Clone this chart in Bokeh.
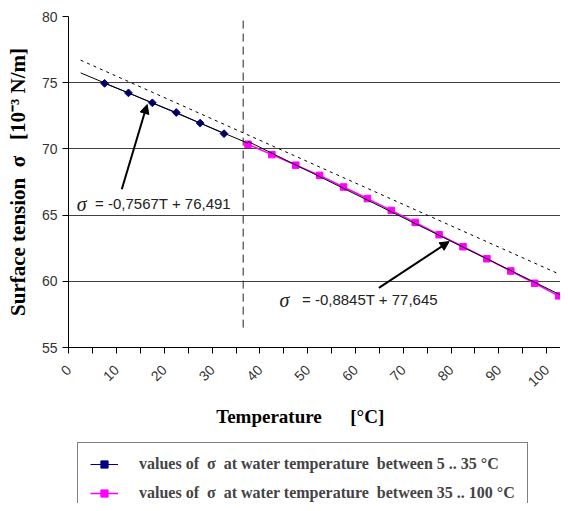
import numpy as np
from bokeh.plotting import figure
from bokeh.layouts import column
from bokeh.models import (Range1d, FixedTicker, Grid, Arrow, NormalHead, Label,
                          Legend, LegendItem)
from bokeh.embed import file_html
from bokeh.resources import INLINE

# ---- data ----
temp_low = [5, 10, 15, 20, 25, 30]
sigma_low = [74.95, 74.23, 73.48, 72.75, 71.95, 71.15]
temp_high = [35, 40, 45, 50, 55, 60, 65, 70, 75, 80, 85, 90, 95, 100]
sigma_high = [70.35, 69.57, 68.77, 68.00, 67.12, 66.25, 65.35, 64.45,
              63.52, 62.61, 61.70, 60.78, 59.85, 58.90]

# dashed reference line (end points)
ref_line_temp = [0, 100.4]
ref_line_sigma = [76.7, 60.5]

# vertical dashed boundary between the two ranges
boundary_temp = [34, 34]
boundary_sigma = [56.5, 80.5]

x_tick_labels = ["0", "10", "20", "30", "40", "50", "60", "70", "80", "90", "100"]
y_ticks = [55, 60, 65, 70, 75, 80]

eq_low = "= -0,7567T + 76,491"
eq_high = "= -0,8845T + 77,645"
legend_labels = ["values of  σ  at water temperature  between 5 .. 35 °C",
                 "values of  σ  at water temperature  between 35 .. 100 °C"]

# trend-line extents (temperature)
trend_low_span = [0, 35]
trend_high_span = [35, 100.4]

# ---- annotation placement (layout) ----
arrow_low = dict(x_start=8.6, y_start=66.95, x_end=13.9, y_end=73.35)
arrow_high = dict(x_start=62.4, y_start=59.5, x_end=77.1, y_end=63.0)
eq_low_pos = dict(sig_x=-0.8, txt_x=3.0, y=65.85)
eq_high_pos = dict(sig_x=41.6, txt_x=46.3, y=58.6)

NAVY = "#000080"
MAGENTA = "#FF00FF"
SANS = "Liberation Sans"
SERIF = "Liberation Serif"
NB = "\u00a0"

p = figure(width=560, height=430, output_backend="svg", toolbar_location=None,
           x_range=Range1d(-2.55, 100.4), y_range=Range1d(55, 80),
           min_border_left=68, min_border_right=0, min_border_top=16,
           min_border_bottom=83)
p.outline_line_color = None
p.background_fill_color = "white"
p.border_fill_color = "white"

# x axis: ticks every 5, labels every 10 (labels offset as in the picture)
tick_pos = [-2.5 + 5 * k for k in range(21)]
overrides = {}
for k, t in enumerate(tick_pos):
    overrides[t] = x_tick_labels[k // 2] if k % 2 == 0 else ""
xa = p.xaxis[0]
xa.ticker = FixedTicker(ticks=tick_pos)
xa.major_label_overrides = overrides
xa.major_label_orientation = np.pi / 4
xa.axis_label = "Temperature" + NB * 6 + "[°C]" + NB * 6

ya = p.yaxis[0]
ya.ticker = FixedTicker(ticks=y_ticks)
ya.axis_label = "Surface tension" + NB * 2 + "σ" + NB * 3 + "[10⁻³ N/m]"

for ax in (xa, ya):
    ax.axis_line_color = "black"
    ax.axis_line_width = 1
    ax.major_tick_line_color = "black"
    ax.major_tick_out = 6
    ax.major_tick_in = 0
    ax.minor_tick_line_color = None
    ax.major_label_text_font = SANS
    ax.major_label_text_font_size = "14px"
    ax.major_label_text_color = "#333333"
    ax.major_label_standoff = 5
    ax.axis_label_text_font = SERIF
    ax.axis_label_text_font_style = "bold"
    ax.axis_label_text_color = "black"
xa.axis_label_text_font_size = "19px"
ya.axis_label_text_font_size = "21px"
xa.major_label_standoff = 14
xa.axis_label_standoff = 12
ya.axis_label_standoff = 9

p.xgrid.visible = False
p.ygrid.ticker = FixedTicker(ticks=[60, 65, 70, 75])
p.ygrid.grid_line_color = "#404040"
p.ygrid.grid_line_width = 1
top_grid = Grid(dimension=1, ticker=FixedTicker(ticks=[80]),
                grid_line_color="#a0a0a0", grid_line_width=2)
p.add_layout(top_grid)

# boundary line
p.line(boundary_temp, boundary_sigma, line_color="#222222", line_width=1,
       line_dash="8 5")

# data series
line_low = p.line(temp_low, sigma_low, line_color=NAVY, line_width=1)
dots_low = p.scatter(temp_low, sigma_low, marker="square", angle=np.pi / 4,
                     size=5.5, fill_color=NAVY, line_color=NAVY)
line_high = p.line(temp_high, sigma_high, line_color=MAGENTA, line_width=1.5)
dots_high = p.scatter(temp_high, sigma_high, marker="square", size=6.5,
                      fill_color=MAGENTA, line_color=MAGENTA)

# trend lines (least squares of each series)
c_low = np.polyfit(temp_low, sigma_low, 1)
c_high = np.polyfit(temp_high, sigma_high, 1)
p.line(trend_low_span, list(np.polyval(c_low, trend_low_span)),
       line_color="black", line_width=1)
p.line(trend_high_span, list(np.polyval(c_high, trend_high_span)),
       line_color="black", line_width=1)
p.line(ref_line_temp, ref_line_sigma, line_color="black", line_width=1,
       line_dash="3 4")

# arrows and equations
for a in (arrow_low, arrow_high):
    p.add_layout(Arrow(end=NormalHead(size=9, fill_color="black",
                                      line_color="black"),
                       line_color="black", line_width=2, **a))
for pos, eq in ((eq_low_pos, eq_low), (eq_high_pos, eq_high)):
    p.add_layout(Label(x=pos["sig_x"], y=pos["y"], text="σ",
                       text_font=SERIF, text_font_style="italic",
                       text_font_size="20px", text_baseline="middle",
                       text_color="#222222"))
    p.add_layout(Label(x=pos["txt_x"], y=pos["y"], text=eq,
                       text_font=SANS, text_font_size="15px",
                       text_baseline="middle", text_color="#222222"))

# ---- legend strip below the chart (key renderers lie outside its view) ----
pl = figure(width=560, height=73, output_backend="svg", toolbar_location=None,
            x_axis_type=None, y_axis_type=None,
            x_range=Range1d(0, 1), y_range=Range1d(0, 1),
            min_border_left=0, min_border_right=0, min_border_top=0,
            min_border_bottom=0)
pl.outline_line_color = None
pl.xgrid.visible = False
pl.ygrid.visible = False
pl.background_fill_color = "white"
pl.border_fill_color = "white"
k_low_line = pl.line(temp_low, sigma_low, line_color=NAVY, line_width=1)
k_low_dot = pl.scatter(temp_low, sigma_low, marker="square", angle=np.pi / 4,
                       size=5.5, fill_color=NAVY, line_color=NAVY)
k_high_line = pl.line(temp_high, sigma_high, line_color=MAGENTA, line_width=1.5)
k_high_dot = pl.scatter(temp_high, sigma_high, marker="square", size=6.5,
                        fill_color=MAGENTA, line_color=MAGENTA)

legend = Legend(items=[LegendItem(label=legend_labels[0], renderers=[k_low_line, k_low_dot]),
                       LegendItem(label=legend_labels[1], renderers=[k_high_line, k_high_dot])],
                location=(9, -12), orientation="vertical",
                label_text_font=SERIF, label_text_font_style="bold",
                label_text_font_size="16px", label_standoff=21,
                label_height=18, glyph_height=18, glyph_width=28,
                label_width=375, spacing=11, padding=12, margin=0,
                border_line_color="black", border_line_width=1,
                background_fill_color="white", background_fill_alpha=1)
pl.add_layout(legend)

open("out.html", "w").write(file_html(column(p, pl, spacing=0), INLINE))
